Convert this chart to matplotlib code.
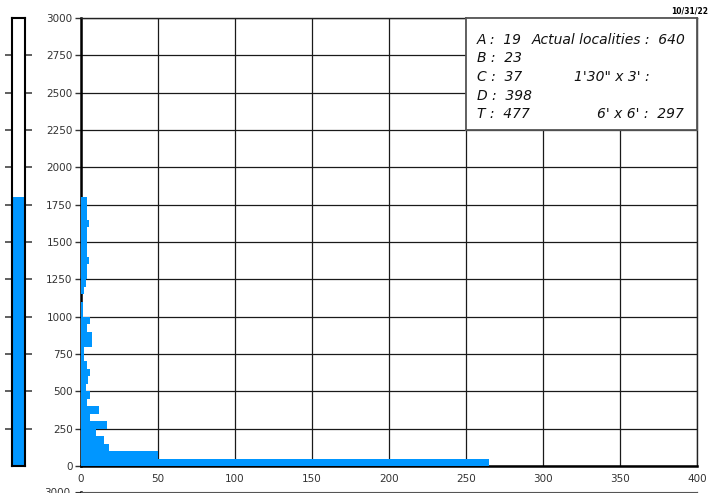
import numpy as np
import matplotlib
matplotlib.use("Agg")
import matplotlib.pyplot as plt

# ================================================
# Data
# ================================================
bin_width = 50
bin_starts = np.arange(0, 1800, bin_width)
counts = [265, 50, 18, 15, 10, 17, 6, 12, 4, 6,
          3, 4.5, 6, 4, 2, 2, 7, 7, 4, 6,
          1, 1, 0, 2, 3, 4, 4, 5, 4, 4,
          4, 4, 5, 4, 4, 4]
total_bar = 1800

box_left = ["A :  19", "B :  23", "C :  37", "D :  398", "T :  477"]
box_right = ["Actual localities :  640", "", "1'30\" x 3' :", "", "6' x 6' :  297"]
date_txt = "10/31/22"

blue = "#0096ff"
W, H = 726, 493

fig = plt.figure(figsize=(W / 100, H / 100), dpi=100)

def px_axes(x0, y0, x1, y1):
    # pixel box (top-left origin) -> figure coords
    return fig.add_axes([x0 / W, 1 - y1 / H, (x1 - x0) / W, (y1 - y0) / H])

# ---- thin summary bar on the left
axl = px_axes(12, 18, 25, 466)
axl.bar([0], [total_bar], width=1, color=blue, align="center")
axl.set_xlim(-0.5, 0.5)
axl.set_ylim(0, 3000)
axl.set_yticks(np.arange(250, 3000, 250))
axl.set_xticks([])
axl.tick_params(axis="y", left=True, right=True, labelleft=False, direction="out",
                length=5, width=1.2, color="#444444")
for s in axl.spines.values():
    s.set_linewidth(1.5)
    s.set_color("black")

# ---- main histogram
ax = px_axes(81, 18, 697, 466)
ax.barh(bin_starts, counts, height=bin_width, align="edge", color=blue, zorder=3)
ax.set_xlim(0, 400)
ax.set_ylim(0, 3000)
ax.set_xticks(np.arange(0, 401, 50))
ax.set_yticks(np.arange(0, 3001, 250))
ax.grid(True, color="#1a1a1a", linewidth=0.9, zorder=0)
ax.tick_params(axis="both", labelsize=7.5, labelcolor="#333333", length=4,
               width=1, color="#333333", pad=2)
ax.tick_params(axis="x", length=0, pad=6)
for s in ["left", "bottom"]:
    ax.spines[s].set_linewidth(1.8)
    ax.spines[s].set_color("black")
for s in ["top", "right"]:
    ax.spines[s].set_linewidth(1.0)
    ax.spines[s].set_color("#222222")

# ---- text box
box = px_axes(466, 18, 697, 130)
box.set_xlim(0, 231)
box.set_ylim(112, 0)
box.set_xticks([])
box.set_yticks([])
for s in box.spines.values():
    s.set_color("#555555")
    s.set_linewidth(1.3)
row_y = [22, 40, 59, 78, 96]
right_x = [66, 0, 108, 0, 131]
for y, lt, rt, rx in zip(row_y, box_left, box_right, right_x):
    box.text(11, y, lt, fontsize=10, style="italic", va="center", color="#111111")
    if rt:
        box.text(rx, y, rt, fontsize=10, style="italic", va="center", color="#111111")

fig.text(708 / W, 1 - 11 / H, date_txt, fontsize=6, fontweight="bold",
         ha="right", va="center", fontstretch="condensed")

# ---- top of the next chart, cut off by the page edge
ax2 = px_axes(81, 492, 697, 940)
ax2.set_xlim(0, 400)
ax2.set_ylim(0, 3000)
ax2.set_yticks([3000])
ax2.set_xticks([])
ax2.tick_params(axis="y", labelsize=7.5, labelcolor="#333333", length=4, color="#333333")
ax2.spines["top"].set_color("#555555")
ax2.spines["left"].set_linewidth(1.8)

fig.savefig("out.png", dpi=100)
